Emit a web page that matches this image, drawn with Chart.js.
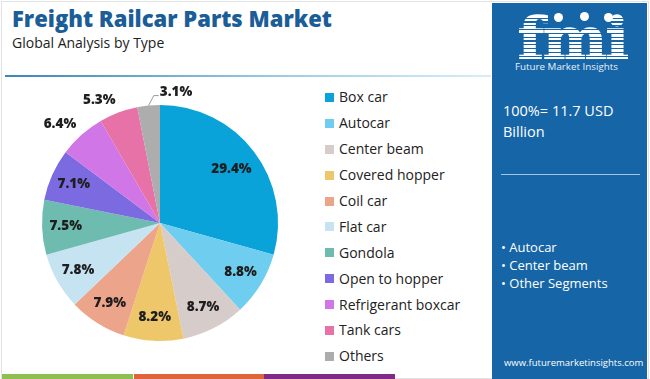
<!DOCTYPE html>
<html><head><meta charset="utf-8">
<script src="https://cdn.jsdelivr.net/npm/chart.js@4"></script>
<style>
html,body{margin:0;padding:0;width:650px;height:379px;overflow:hidden;background:#fff;font-family:"Open Sans",sans-serif;}
#wrap{position:absolute;left:0;top:0;width:650px;height:379px;}
#card{position:absolute;left:1px;top:1px;width:646px;height:376px;border:1px solid #e2e2e2;}
#title{position:absolute;left:12px;top:3px;font-family:"Open Sans";font-weight:800;font-size:22px;color:#1b5d97;white-space:nowrap;}
#sub{position:absolute;left:12px;top:33px;font-family:"Open Sans";font-size:14px;color:#222;white-space:nowrap;}
#sep{position:absolute;left:5px;top:75px;width:486px;height:2px;background:linear-gradient(90deg,#3d86b5,#9fd0e6 60%,#d8eef7);}
#cv{position:absolute;left:0;top:80px;width:320px;height:290px;}
#legend{position:absolute;left:325px;top:84px;}
.li{height:25.9px;display:flex;align-items:center;font-size:14px;color:#222;white-space:nowrap;}
.sw{width:9px;height:9px;margin-right:5px;margin-top:1px;}
#panel{position:absolute;left:492px;top:3px;width:155px;height:376px;background:#1665a6;color:#fff;overflow:hidden;}
#logo{position:absolute;left:26px;top:7px;font-family:"DejaVu Serif";font-weight:bold;font-size:57px;line-height:57px;letter-spacing:-1px;color:#fff;-webkit-text-stroke:1.5px #fff;transform:scaleX(1.06);transform-origin:left top;}
#stripes{position:absolute;left:20px;top:12px;width:120px;height:50px;background:repeating-linear-gradient(180deg,transparent 0 2.6px,#1665a6 2.6px 3.8px);}
.ic{position:absolute;width:9px;height:9px;border-radius:50%;background:#fff;}
#fmiTxt{position:absolute;left:23px;top:57px;font-size:9.8px;color:#e8f1f9;white-space:nowrap;}
#tot{position:absolute;left:11px;top:97px;font-size:14.5px;line-height:21px;color:#fff;}
#pl{position:absolute;left:9px;top:171px;width:139px;height:1px;background:#9fc7e6;}
#bul{position:absolute;left:9px;top:235px;font-size:13px;line-height:18px;color:#fff;white-space:nowrap;}
#url{position:absolute;left:12px;top:353px;font-size:9.5px;color:#fff;white-space:nowrap;}
.bb{position:absolute;top:374px;height:5px;}
</style></head>
<body><div id="wrap">
<div id="card"></div>
<div id="title">Freight Railcar Parts Market</div>
<div id="sub">Global Analysis by Type</div>
<div id="sep"></div>
<canvas id="cv" width="320" height="290"></canvas>
<div id="legend"></div>
<div class="bb" style="left:2px;width:131px;background:#8cc152"></div>
<div class="bb" style="left:134px;width:130px;background:#e0643a"></div>
<div class="bb" style="left:264px;width:131px;background:#7f2b86"></div>
<div id="panel">
  <div id="logo">fmi</div>
  <div id="stripes"></div>
  <div class="ic" style="left:62px;top:10px"></div>
  <div class="ic" style="left:88px;top:9px"></div>
  <div class="ic" style="left:112px;top:10px"></div>
  <div id="fmiTxt">Future Market Insights</div>
  <div id="tot">100%= 11.7 USD<br>Billion</div>
  <div id="pl"></div>
  <div id="bul">• Autocar<br>• Center beam<br>• Other Segments</div>
  <div id="url">www.futuremarketinsights.com</div>
</div>
</div>
<script>
const categories = ["Box car","Autocar","Center beam","Covered hopper","Coil car","Flat car","Gondola","Open to hopper","Refrigerant boxcar","Tank cars","Others"];
const shares = [29.4,8.8,8.7,8.2,7.9,7.8,7.5,7.1,6.4,5.3,3.1];
const colors = ["#0aa3d9","#6fcef0","#d6ccc9","#eec76b","#eca48b","#c6e3f1","#6dbcaf","#7b6ae0","#d176e6","#e672a8","#adadad"];
const outsideIdx = [8,9,10];

const lg = document.getElementById('legend');
categories.forEach((c,i)=>{
  const d=document.createElement('div');d.className='li';
  d.innerHTML='<div class="sw" style="background:'+colors[i]+'"></div>'+c;
  lg.appendChild(d);
});

const labelPlugin = {
  id:'pieLabels',
  afterDatasetsDraw(chart){
    const ctx=chart.ctx;
    const meta=chart.getDatasetMeta(0);
    ctx.save();
    ctx.font='800 13.5px "Open Sans"';
    ctx.fillStyle='#1e1e1e';
    ctx.textAlign='center';ctx.textBaseline='middle';
    meta.data.forEach((arc,i)=>{
      const p=arc.getProps(['x','y','startAngle','endAngle','outerRadius'],true);
      const a=(p.startAngle+p.endAngle)/2;
      const txt=shares[i].toFixed(1)+'%';
      if(i===10){
        const r0=p.outerRadius, r1=p.outerRadius+8;
        const x0=p.x+Math.cos(a)*r0, y0=p.y+Math.sin(a)*r0;
        const x1=p.x+Math.cos(a)*r1+6, y1=p.y+Math.sin(a)*r1-2;
        ctx.strokeStyle='#999';ctx.lineWidth=1;
        ctx.beginPath();ctx.moveTo(x0,y0);ctx.lineTo(x1,y1);ctx.lineTo(x1+5,y1);ctx.stroke();
        ctx.textAlign='left';
        ctx.fillText(txt,x1+6,y1-3);
      } else if(outsideIdx.includes(i)){
        const r=p.outerRadius+8;
        ctx.textAlign='right';
        ctx.fillText(txt,p.x+Math.cos(a)*r,p.y+Math.sin(a)*r-5);
      } else {
        const r=p.outerRadius*(i===0?0.76:0.8);
        ctx.textAlign='center';
        ctx.fillText(txt,p.x+Math.cos(a)*r,p.y+Math.sin(a)*r);
      }
    });
    ctx.restore();
  }
};

new Chart(document.getElementById('cv'),{
  type:'pie',
  data:{labels:categories,datasets:[{data:shares,backgroundColor:colors,borderWidth:0}]},
  options:{
    responsive:false,animation:false,
    layout:{padding:{top:25,bottom:29,left:42,right:42}},
    plugins:{legend:{display:false},tooltip:{enabled:false}}
  },
  plugins:[labelPlugin]
});
</script>
</body></html>
